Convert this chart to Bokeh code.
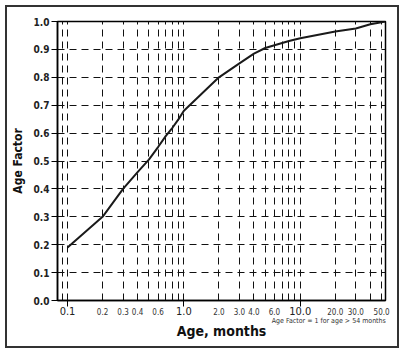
from bokeh.plotting import figure
from bokeh.models import FixedTicker, Range1d, PrintfTickFormatter, LogAxis, CustomJSTickFormatter
from bokeh.embed import file_html
from bokeh.resources import INLINE

# ---- data ----
months = [0.1, 0.2, 0.3, 0.4, 0.5, 0.6, 0.7, 0.8, 0.9, 1.0, 2.0, 3.0, 4.0, 5.0, 6.0, 8.0, 10.0, 20.0, 30.0, 40.0, 54.0]
age_factor = [0.19, 0.30, 0.40, 0.46, 0.505, 0.55, 0.59, 0.62, 0.65, 0.68, 0.80, 0.85, 0.885, 0.905, 0.915, 0.93, 0.94, 0.964, 0.975, 0.99, 1.0]

y_ticks = [0.0, 0.1, 0.2, 0.3, 0.4, 0.5, 0.6, 0.7, 0.8, 0.9, 1.0]
x_major_ticks = [0.1, 1.0, 10.0]
x_minor_ticks = [0.2, 0.3, 0.4, 0.6, 2.0, 3.0, 4.0, 6.0, 20.0, 30.0, 50.0]
x_grid = [0.09, 0.1, 0.2, 0.3, 0.4, 0.5, 0.6, 0.7, 0.8, 0.9,
          1, 2, 3, 4, 5, 6, 7, 8, 9, 10, 20, 30, 40, 50]
x_title = "Age, months"
y_title = "Age Factor"
note_text = "Age Factor = 1 for age > 54 months"

# layout constant: x position (months) where the note is centred
NOTE_ANCHOR = 17.6
FONT = "DejaVu Sans Condensed, Liberation Sans, sans-serif"

p = figure(width=404, height=353, x_axis_type="log",
           x_range=Range1d(0.082, 54), y_range=Range1d(0, 1),
           output_backend="svg", toolbar_location=None,
           min_border_left=57, min_border_right=19,
           min_border_top=21, min_border_bottom=53)

p.background_fill_color = "white"
p.border_fill_alpha = 0
p.outline_line_color = "black"
p.outline_line_width = 1.5

# grids
p.xgrid.ticker = FixedTicker(ticks=x_grid)
p.ygrid.ticker = FixedTicker(ticks=y_ticks[1:-1])
for g in (p.xgrid, p.ygrid):
    g.grid_line_color = "#111111"
    g.grid_line_dash = "7 5"
    g.grid_line_width = 1


def bare(axis):
    axis.axis_line_color = None
    axis.major_tick_line_color = None
    axis.minor_tick_line_color = None
    axis.major_tick_out = 0
    axis.major_tick_in = 0


# panel 1: frame axis with decade ticks and large labels
xa = p.xaxis[0]
xa.ticker = FixedTicker(ticks=x_major_ticks)
xa.formatter = PrintfTickFormatter(format="%.1f")
xa.axis_line_color = "black"
xa.axis_line_width = 1.5
xa.major_tick_out = 6
xa.major_tick_in = 0
xa.minor_tick_line_color = None
xa.major_label_standoff = 0
xa.major_label_text_font = FONT
xa.major_label_text_font_size = "11px"
xa.major_label_text_color = "#222222"

# panel 2: the note, right part of the plot
xnote = LogAxis(ticker=FixedTicker(ticks=[NOTE_ANCHOR]),
                formatter=CustomJSTickFormatter(args=dict(note=note_text), code="return note"))
bare(xnote)
xnote.major_label_standoff = -1
xnote.major_label_text_font = FONT
xnote.major_label_text_font_size = "7px"
xnote.major_label_text_color = "#333333"
p.add_layout(xnote, "below")

# panel 3: small intermediate labels (pulled up beside the large ones) + axis title
xs = LogAxis(ticker=FixedTicker(ticks=x_minor_ticks),
             formatter=PrintfTickFormatter(format="%.1f"))
bare(xs)
xs.major_label_standoff = -20
xs.major_label_text_font = FONT
xs.major_label_text_font_size = "8px"
xs.major_label_text_color = "#333333"
xs.axis_label = x_title
xs.axis_label_standoff = 5
xs.axis_label_text_font = FONT
xs.axis_label_text_font_size = "14px"
xs.axis_label_text_font_style = "bold"
xs.axis_label_text_color = "#111111"
p.add_layout(xs, "below")

# y axis
ya = p.yaxis[0]
ya.ticker = FixedTicker(ticks=y_ticks)
ya.formatter = PrintfTickFormatter(format="%.1f")
ya.axis_line_color = "black"
ya.axis_line_width = 1.5
ya.major_tick_out = 6
ya.major_tick_in = 0
ya.minor_tick_line_color = None
ya.major_label_standoff = 2
ya.major_label_text_font = FONT
ya.major_label_text_font_size = "10px"
ya.major_label_text_font_style = "bold"
ya.major_label_text_color = "#222222"
ya.axis_label = y_title
ya.axis_label_text_font = FONT
ya.axis_label_text_font_size = "12px"
ya.axis_label_text_font_style = "bold"
ya.axis_label_text_color = "#111111"
ya.axis_label_standoff = 6

# curve
p.line(months, age_factor, line_color="#1a1a1a", line_width=2)

p.styles = {"background-color": "white",
            "box-shadow": "inset 0 0 0 5px white, inset 0 0 0 7px #333333"}

open("out.html", "w").write(file_html(p, INLINE))
